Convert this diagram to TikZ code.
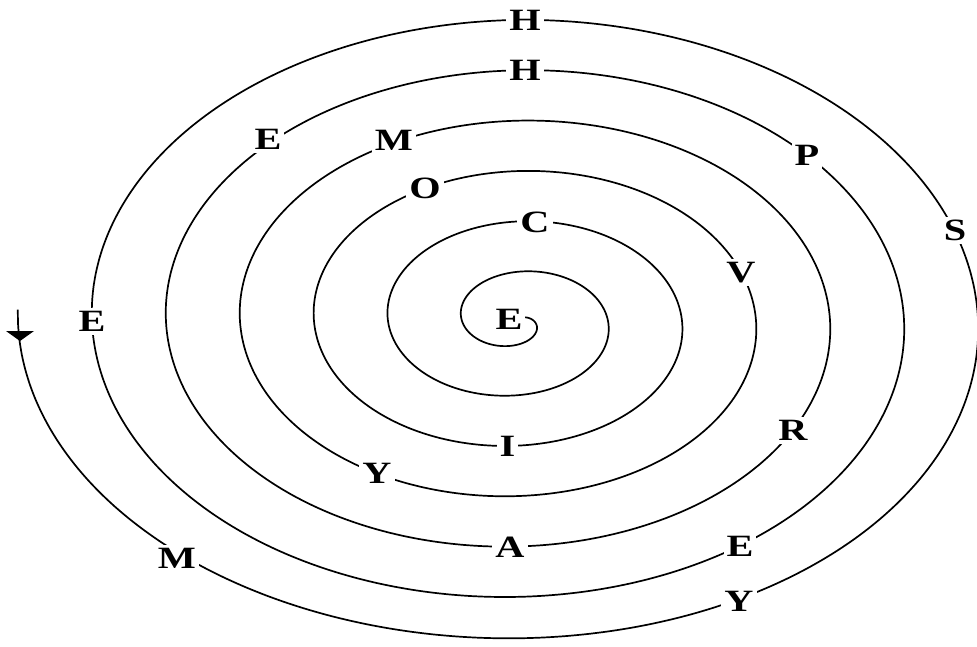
\documentclass[tikz,border=0pt]{standalone}
\usepackage{graphicx}
\usepackage{fontspec}
\setmainfont{Liberation Serif}
\newcommand\wide[1]{\scalebox{1.3}[1]{#1}}
\begin{document}
\begin{tikzpicture}[x=1pt,y=-1pt,
  spiral/.style={line width=1.7pt,line join=round},
  letter/.style={fill=white,inner sep=3pt,text height=21pt,text depth=0pt,
    font=\fontsize{31}{31}\selectfont\bfseries}]
\useasboundingbox (0,0) rectangle (977,646);
\draw[spiral] plot[domain=-40:2342,samples=900,smooth]
  ({516.5+(17.5+0.2056*\x)*cos(\x)},{321+(11.3+0.14*\x-0.05*max(\x-2070,0))*sin(\x)});
\fill (6,331) -- (34,331) -- (20,341) -- cycle;
\node[letter] (e1) at (509,319) {\wide{E}};
\node[letter] (c) at (535,222) {\wide{C}};
\node[letter] (i) at (507.5,446) {\wide{I}};
\node[letter] (o) at (425,188) {\wide{O}};
\node[letter] (v) at (741,272) {\wide{V}};
\node[letter] (y1) at (377,473) {\wide{Y}};
\node[letter] (m1) at (394,140) {\wide{M}};
\node[letter] (r) at (793,430) {\wide{R}};
\node[letter] (a) at (510,546.5) {\wide{A}};
\node[letter] (e2) at (268,139) {\wide{E}};
\node[letter] (h1) at (525,70) {\wide{H}};
\node[letter] (p) at (807,155) {\wide{P}};
\node[letter] (e3) at (740,546) {\wide{E}};
\node[letter] (e4) at (92,321) {\wide{E}};
\node[letter] (h2) at (525,20) {\wide{H}};
\node[letter] (s) at (955,230) {\wide{S}};
\node[letter] (y2) at (739,601) {\wide{Y}};
\node[letter] (m2) at (177,558) {\wide{M}};
\end{tikzpicture}
\end{document}
